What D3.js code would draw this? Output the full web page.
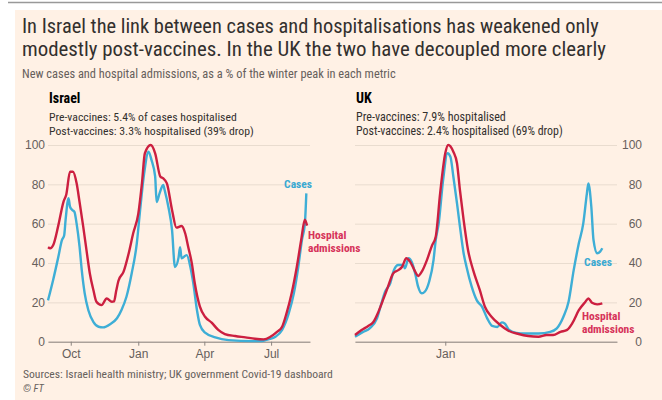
<!DOCTYPE html>
<meta charset="utf-8">
<script src="https://d3js.org/d3.v7.min.js"></script>
<style>
  body { margin: 0; background: #fff; }
  svg { display: block; font-family: "Liberation Sans Narrow", "Roboto Condensed", Roboto, sans-serif; }
</style>
<body>
<script>
// ---- data (% of winter peak) ----
var israelCases = [
  ["2020-08-31",21],["2020-09-07",31.4],["2020-09-14",43],["2020-09-19",51.7],["2020-09-22",54],
  ["2020-09-24",62],["2020-09-28",73],["2020-09-30",68.6],["2020-10-03",67],["2020-10-06",66],
  ["2020-10-09",60],["2020-10-13",48.3],["2020-10-16",36.4],["2020-10-20",24.6],["2020-10-25",16],
  ["2020-11-01",10],["2020-11-08",7.6],["2020-11-14",7.3],["2020-11-24",9],["2020-12-03",11.9],
  ["2020-12-09",16],["2020-12-16",23],["2020-12-23",34.7],["2020-12-30",50],["2021-01-03",65],
  ["2021-01-09",85.6],["2021-01-15",96.6],["2021-01-19",92.4],["2021-01-24",84],["2021-01-26",71],
  ["2021-01-30",75.4],["2021-02-04",79.7],["2021-02-06",77],["2021-02-11",68.6],["2021-02-16",56.8],
  ["2021-02-20",38],["2021-02-25",43],["2021-02-27",48],["2021-03-01",42.4],["2021-03-08",44],
  ["2021-03-13",38],["2021-03-17",29.7],["2021-03-22",16],["2021-03-26",8.5],["2021-04-02",4.6],
  ["2021-04-16",2.2],["2021-05-04",0.8],["2021-06-05",0.3],["2021-06-18",0.3],["2021-06-27",1.2],
  ["2021-07-07",2.5],["2021-07-16",6],["2021-07-25",14.4],["2021-08-01",24.6],["2021-08-07",38],
  ["2021-08-12",51.7],["2021-08-16",60],["2021-08-18",75.4]
];
var israelHosp = [
  ["2020-08-31",48],["2020-09-03",47.5],["2020-09-07",49],["2020-09-14",59],["2020-09-21",71],
  ["2020-09-25",75],["2020-09-30",86.4],["2020-10-04",86.4],["2020-10-09",80.5],["2020-10-13",71],
  ["2020-10-18",58.5],["2020-10-23",45],["2020-10-27",34.7],["2020-11-01",26],["2020-11-05",20.3],
  ["2020-11-12",18.6],["2020-11-19",22],["2020-11-26",20.3],["2020-11-29",20.5],["2020-12-02",26],
  ["2020-12-05",31],["2020-12-12",35.6],["2020-12-19",45],["2020-12-25",55],["2021-01-01",65],
  ["2021-01-06",80.5],["2021-01-10",95.8],["2021-01-18",100],["2021-01-24",95.8],["2021-01-31",84],
  ["2021-02-04",83],["2021-02-09",80.5],["2021-02-16",67],["2021-02-22",58],["2021-03-01",58.8],
  ["2021-03-06",55],["2021-03-10",48.3],["2021-03-15",39.8],["2021-03-19",29.7],["2021-03-26",17.8],
  ["2021-04-02",12.7],["2021-04-11",9.7],["2021-04-20",6],["2021-04-29",3.9],["2021-05-13",2.9],
  ["2021-05-27",2.2],["2021-06-09",1.5],["2021-06-21",1.2],["2021-06-30",2.5],["2021-07-09",5],
  ["2021-07-16",7.6],["2021-07-22",14.4],["2021-07-29",24.6],["2021-08-05",38],["2021-08-11",51.7],
  ["2021-08-16",62],["2021-08-19",59]
];
var ukCases = [
  ["2020-08-31",2.5],["2020-09-11",5],["2020-09-20",6.8],["2020-09-30",11.9],["2020-10-06",19.5],
  ["2020-10-11",25.4],["2020-10-18",29.7],["2020-10-23",36.4],["2020-10-29",39],["2020-11-05",39],
  ["2020-11-07",37.3],["2020-11-12",42.4],["2020-11-16",40.7],["2020-11-21",34.7],["2020-11-25",28],
  ["2020-11-30",24.6],["2020-12-04",25.4],["2020-12-10",30.5],["2020-12-16",41.5],["2020-12-19",51.7],
  ["2020-12-23",60],["2020-12-29",82],["2021-01-04",95.8],["2021-01-08",94],["2021-01-12",84],
  ["2021-01-17",70.3],["2021-01-21",58.5],["2021-01-26",45],["2021-01-30",38],["2021-02-06",28],
  ["2021-02-13",21],["2021-02-20",17.8],["2021-02-27",12],["2021-03-06",8],["2021-03-13",7.5],
  ["2021-03-19",9.8],["2021-03-23",9.3],["2021-03-29",6],["2021-04-08",4.5],["2021-04-20",4.2],
  ["2021-05-08",4.2],["2021-05-24",5],["2021-06-02",6.8],["2021-06-11",12.7],["2021-06-18",20.3],
  ["2021-06-25",36.4],["2021-07-02",50],["2021-07-08",60],["2021-07-13",75.4],["2021-07-15",80.5],
  ["2021-07-19",68.6],["2021-07-22",51.7],["2021-07-27",45],["2021-07-31",45.8],["2021-08-03",47.5]
];
var ukHosp = [
  ["2020-08-31",3.4],["2020-09-09",5.9],["2020-09-18",8],["2020-09-25",10],["2020-10-02",15.3],
  ["2020-10-09",22],["2020-10-15",28],["2020-10-22",34.7],["2020-10-29",36.4],["2020-11-03",38],
  ["2020-11-09",42.4],["2020-11-14",40.7],["2020-11-21",35.6],["2020-11-25",33.4],["2020-11-30",35.6],
  ["2020-12-07",41.5],["2020-12-14",49],["2020-12-19",53.4],["2020-12-25",75.4],["2021-01-01",95.8],
  ["2021-01-05",100],["2021-01-12",96.6],["2021-01-17",90.7],["2021-01-21",77],["2021-01-26",61.9],
  ["2021-02-01",46.6],["2021-02-08",36.4],["2021-02-17",26.3],["2021-02-24",17.8],["2021-03-05",12.7],
  ["2021-03-17",8.5],["2021-03-28",5.6],["2021-04-11",3.9],["2021-04-24",2.9],["2021-05-08",2.5],
  ["2021-05-19",3.4],["2021-05-28",3.4],["2021-06-07",5],["2021-06-16",6],["2021-06-23",9.3],
  ["2021-07-02",16],["2021-07-11",20.3],["2021-07-15",22],["2021-07-20",19.8],["2021-07-27",19],
  ["2021-08-03",19.5]
];
var yTicks = [0, 20, 40, 60, 80, 100];
var israelTicks = ["2020-10-01", "2021-01-01", "2021-04-01", "2021-07-01"];
var ukTicks = ["2021-01-01"];
var israelNotes = ["Pre-vaccines: 5.4% of cases hospitalised", "Post-vaccines: 3.3% hospitalised (39% drop)"];
var ukNotes = ["Pre-vaccines: 7.9% hospitalised", "Post-vaccines: 2.4% hospitalised (69% drop)"];

var blue = "#3eaed6", red = "#cc1f40";
var ink = "#33302e", grey = "#66605c";

var parse = d3.timeParse("%Y-%m-%d");
var svg = d3.select("body").append("svg").attr("width", 662).attr("height", 400);

// shrink/grow a text's font-size so it spans the wanted width
function fit(t, w) {
  var L = t.node().getComputedTextLength();
  var fs = parseFloat(t.attr("font-size"));
  t.attr("font-size", (fs * w / L).toFixed(2));
  return t;
}

svg.append("rect").attr("x", 15).attr("y", 10).attr("width", 647).attr("height", 390).attr("fill", "#fff1e5");
svg.append("line").attr("x1", 8).attr("x2", 662).attr("y1", 2.5).attr("y2", 2.5)
  .attr("stroke", "#999").attr("stroke-width", 1.5);

fit(svg.append("text").attr("x", 22).attr("y", 33).attr("font-size", 20).attr("fill", ink)
  .text("In Israel the link between cases and hospitalisations has weakened only"), 577);
fit(svg.append("text").attr("x", 22).attr("y", 56).attr("font-size", 20).attr("fill", ink)
  .text("modestly post-vaccines. In the UK the two have decoupled more clearly"), 584);
fit(svg.append("text").attr("x", 22).attr("y", 77.5).attr("font-size", 13).attr("fill", grey)
  .text("New cases and hospital admissions, as a % of the winter peak in each metric"), 374);

var y = d3.scaleLinear().domain([0, 100]).range([341.7, 145]);

var panels = [
  {name: "Israel", cases: israelCases, hosp: israelHosp, notes: israelNotes, ticks: israelTicks,
   x0: 48, x1: 310, side: "left", noteW: [188, 205]},
  {name: "UK", cases: ukCases, hosp: ukHosp, notes: ukNotes, ticks: ukTicks,
   x0: 355, x1: 617, side: "right", noteW: [150, 207]}
];

panels.forEach(function(p) {
  var x = d3.scaleTime().domain([parse("2020-08-31"), parse("2021-08-23")]).range([p.x0, p.x1]);
  var g = svg.append("g");

  g.append("text").attr("x", p.x0 + 1).attr("y", 103).attr("font-size", 14).attr("font-weight", "bold")
    .attr("fill", "#000").text(p.name);
  p.notes.forEach(function(n, i) {
    fit(g.append("text").attr("x", p.x0 + 1).attr("y", 120.5 + i * 14.5).attr("font-size", 11.5)
      .attr("fill", ink).text(n), p.noteW[i]);
  });

  // gridlines + value labels
  var yAxis = (p.side == "left" ? d3.axisLeft(y) : d3.axisRight(y))
    .tickValues(yTicks).tickSize(-(p.x1 - p.x0)).tickPadding(3);
  var ya = g.append("g").attr("transform", "translate(" + (p.side == "left" ? p.x0 : p.x1) + ",0)").call(yAxis);
  ya.select(".domain").remove();
  ya.selectAll("line").attr("stroke", "#e9dccf");
  ya.selectAll("text").attr("font-size", 12).attr("fill", grey).attr("font-family", null);
  if (p.side == "right") ya.selectAll("text").attr("text-anchor", "end").attr("x", 25);

  var xAxis = d3.axisBottom(x).tickValues(p.ticks.map(parse)).tickSize(4).tickSizeOuter(0)
    .tickFormat(d3.timeFormat("%b")).tickPadding(4);
  var xa = g.append("g").attr("transform", "translate(0," + y(0) + ")").call(xAxis);
  xa.select(".domain").attr("stroke", "#8c8580");
  xa.selectAll("line").attr("stroke", "#8c8580");
  xa.selectAll("text").attr("font-size", 12).attr("fill", grey).attr("font-family", null);

  var line = d3.line().x(function(d) { return x(parse(d[0])); }).y(function(d) { return y(d[1]); })
    .curve(d3.curveMonotoneX);
  g.append("path").datum(p.cases).attr("d", line).attr("fill", "none").attr("stroke", blue)
    .attr("stroke-width", 2.4).attr("stroke-linejoin", "round");
  g.append("path").datum(p.hosp).attr("d", line).attr("fill", "none").attr("stroke", red)
    .attr("stroke-width", 2.4).attr("stroke-linejoin", "round");
});

// series labels
function label(xp, yp, lines, col, anchor) {
  lines.forEach(function(s, i) {
    svg.append("text").attr("x", xp).attr("y", yp + i * 13).attr("font-size", 11.5)
      .attr("font-weight", "bold").attr("fill", col).attr("text-anchor", anchor).text(s);
  });
}
label(312, 188, ["Cases"], "#3aa9d2", "end");
label(308, 239, ["Hospital", "admissions"], "#d6335a", "start");
label(612, 266, ["Cases"], "#3aa9d2", "end");
label(582, 320, ["Hospital", "admissions"], "#d6335a", "start");

fit(svg.append("text").attr("x", 23).attr("y", 378).attr("font-size", 10.5).attr("fill", grey)
  .text("Sources: Israeli health ministry; UK government Covid-19 dashboard"), 310);
svg.append("text").attr("x", 23).attr("y", 391.5).attr("font-size", 10.5).attr("font-style", "italic")
  .attr("fill", grey).text("© FT");
</script>
</body>
